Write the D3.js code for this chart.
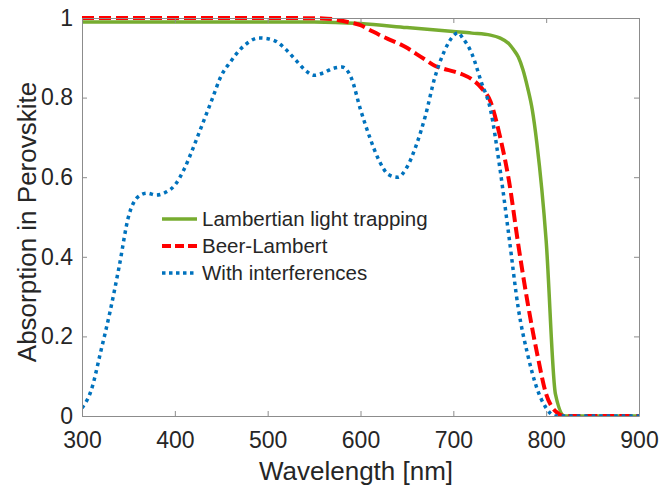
<!DOCTYPE html>
<html>
<head>
<meta charset="utf-8">
<script src="https://cdn.jsdelivr.net/npm/d3@7"></script>
<style>
  body { margin: 0; background: #fff; }
  text { font-family: "Liberation Sans", Arial, sans-serif; fill: #262626; }
</style>
</head>
<body>
<div id="chart"></div>
<script>
// values (wavelength in nm, absorption 0..1)
const lambWl  = [300, 400, 500, 550, 600, 650, 700, 720, 740, 750, 760, 765, 770, 775, 780, 785, 790, 800, 810, 820, 900];
const lambAbs = [0.99, 0.99, 0.99, 0.99, 0.986, 0.976, 0.966, 0.962, 0.957, 0.95, 0.935, 0.92, 0.902, 0.87, 0.825, 0.77, 0.685, 0.44, 0.055, 0, 0];

const beerWl  = [300, 400, 500, 560, 570, 580, 590, 600, 610, 620, 630, 640, 650, 660, 670, 680, 690, 700, 710, 720, 730, 740, 750, 760, 770, 780, 790, 800, 810, 820, 900];
const beerAbs = [1, 1, 1, 0.999, 0.997, 0.993, 0.988, 0.982, 0.97, 0.958, 0.947, 0.937, 0.925, 0.91, 0.895, 0.88, 0.872, 0.866, 0.858, 0.846, 0.825, 0.79, 0.705, 0.59, 0.43, 0.285, 0.16, 0.055, 0.012, 0, 0];

const interfWl  = [300, 310, 320, 330, 340, 350, 360, 370, 380, 390, 400, 410, 420, 430, 440, 450, 460, 470, 480, 490, 500, 510, 520, 530, 540, 550, 560, 570, 580, 590, 600, 610, 620, 630, 640, 650, 660, 670, 680, 690, 700, 705, 710, 720, 730, 740, 750, 760, 770, 780, 790, 800, 810, 900];
const interfAbs = [0.02, 0.065, 0.16, 0.26, 0.375, 0.5, 0.55, 0.56, 0.555, 0.562, 0.58, 0.62, 0.675, 0.735, 0.795, 0.855, 0.89, 0.92, 0.94, 0.95, 0.948, 0.94, 0.92, 0.895, 0.87, 0.856, 0.862, 0.873, 0.877, 0.85, 0.77, 0.7, 0.642, 0.607, 0.6, 0.625, 0.68, 0.755, 0.85, 0.915, 0.955, 0.963, 0.95, 0.91, 0.84, 0.77, 0.625, 0.45, 0.27, 0.155, 0.07, 0.02, 0, 0];

const xTicks = [300, 400, 500, 600, 700, 800, 900];
const yTicks = [0, 0.2, 0.4, 0.6, 0.8, 1];

const seriesNames = ["Lambertian light trapping", "Beer-Lambert", "With interferences"];

// sizes
const W = 659, H = 487;
const margin = { top: 18, right: 20, bottom: 71, left: 82 },
      width = W - margin.left - margin.right,
      height = H - margin.top - margin.bottom;

const series = [
  { name: seriesNames[0], wl: lambWl, abs: lambAbs, color: "#77AC30", w: 3.5, dash: null, legDash: null },
  { name: seriesNames[1], wl: beerWl, abs: beerAbs, color: "#FF0000", w: 4, dash: "12,5", legDash: "9,4" },
  { name: seriesNames[2], wl: interfWl, abs: interfAbs, color: "#0072BD", w: 3.5, dash: "3.5,4", legDash: "3.5,3.5" }
];

const svg = d3.select("#chart").append("svg")
    .attr("width", W)
    .attr("height", H);

const g = svg.append("g")
    .attr("transform", "translate(" + margin.left + "," + margin.top + ")");

const x = d3.scaleLinear().domain([300, 900]).range([0, width]);
const y = d3.scaleLinear().domain([0, 1]).range([height, 0]);

// clip so the lines stay in the box
svg.append("defs").append("clipPath").attr("id", "clip")
  .append("rect").attr("x", 0).attr("y", -3).attr("width", width).attr("height", height + 3);

const line = d3.line()
    .x(d => x(d[0]))
    .y(d => y(d[1]))
    .curve(d3.curveMonotoneX);

const lines = g.append("g").attr("clip-path", "url(#clip)");
series.forEach(s => {
  lines.append("path")
    .datum(s.wl.map((v, i) => [v, s.abs[i]]))
    .attr("d", line)
    .attr("fill", "none")
    .attr("stroke", s.color)
    .attr("stroke-width", s.w)
    .attr("stroke-dasharray", s.dash);
});

// axes, ticks pointing in, box all round
const axisColor = "#8c8c8c";
function styleAxis(sel, labels) {
  sel.select(".domain").attr("stroke", axisColor);
  sel.selectAll(".tick line").attr("stroke", axisColor);
  sel.selectAll(".tick text")
    .style("font-size", "23px")
    .attr("fill", "#262626")
    .style("display", labels ? null : "none");
}

g.append("g")
  .attr("transform", "translate(0," + height + ")")
  .call(d3.axisBottom(x).tickValues(xTicks).tickSizeInner(-5).tickSizeOuter(0).tickPadding(16))
  .call(s => styleAxis(s, true));

g.append("g")
  .call(d3.axisTop(x).tickValues(xTicks).tickSizeInner(-5).tickSizeOuter(0))
  .call(s => styleAxis(s, false));

g.append("g")
  .call(d3.axisLeft(y).tickValues(yTicks).tickFormat(d3.format("~g")).tickSizeInner(-5).tickSizeOuter(0).tickPadding(9))
  .call(s => styleAxis(s, true));

g.append("g")
  .attr("transform", "translate(" + width + ",0)")
  .call(d3.axisRight(y).tickValues(yTicks).tickSizeInner(-5).tickSizeOuter(0))
  .call(s => styleAxis(s, false));

// axis titles
svg.append("text")
  .attr("x", 356).attr("y", 480)
  .attr("text-anchor", "middle")
  .style("font-size", "26px")
  .text("Wavelength [nm]");

svg.append("text")
  .attr("transform", "translate(36,222) rotate(-90)")
  .attr("text-anchor", "middle")
  .style("font-size", "26px")
  .text("Absorption in Perovskite");

// legend (no frame)
const legend = svg.append("g").attr("transform", "translate(162,219)");
series.forEach((s, i) => {
  const row = legend.append("g").attr("transform", "translate(0," + i * 27 + ")");
  row.append("line")
    .attr("x1", 0).attr("x2", 35)
    .attr("stroke", s.color)
    .attr("stroke-width", s.w)
    .attr("stroke-dasharray", s.legDash);
  row.append("text")
    .attr("x", 40).attr("dy", "0.35em")
    .style("font-size", "20.5px")
    .text(s.name);
});
</script>
</body>
</html>
